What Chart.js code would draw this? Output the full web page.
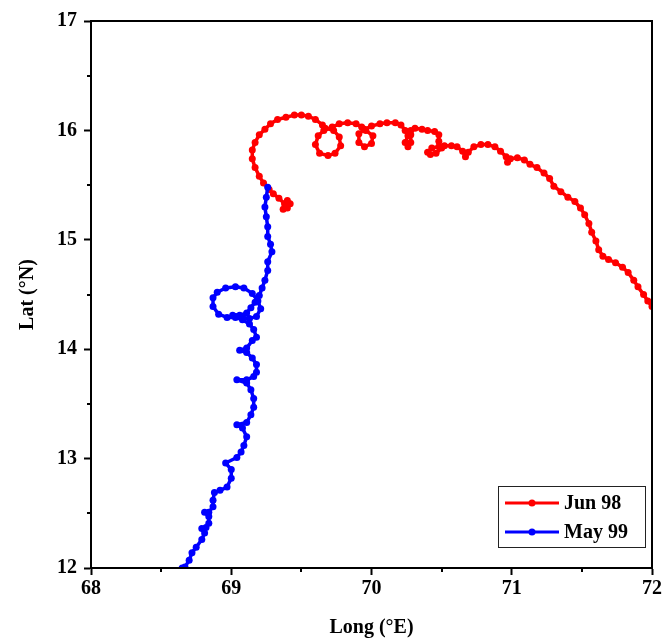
<!DOCTYPE html>
<html>
<head>
<meta charset="utf-8">
<script src="https://cdn.jsdelivr.net/npm/chart.js@4.4.1/dist/chart.umd.min.js"></script>
<style>
  html, body { margin: 0; padding: 0; background: #fff; }
  #wrap { width: 664px; height: 641px; }
</style>
</head>
<body>
<div id="wrap"><canvas id="myChart" width="664" height="641"></canvas></div>
<script>
// Jun 98 track (red)
const junLong = [69.37, 69.40, 69.42, 69.40, 69.38, 69.34, 69.30, 69.27, 69.23, 69.20, 69.17, 69.15, 69.15, 69.17, 69.20, 69.24, 69.28,
    69.33, 69.39, 69.45, 69.50, 69.55, 69.60, 69.65,
    69.67, 69.73, 69.77, 69.78, 69.74, 69.69, 69.63, 69.60, 69.62, 69.66, 69.72, 69.77, 69.83, 69.89, 69.93,
    69.96, 70.01, 70.00, 69.95, 69.91, 69.91, 69.95, 70.00, 70.06, 70.11, 70.17, 70.21, 70.24,
    70.26, 70.24, 70.26, 70.28, 70.28, 70.28, 70.31, 70.36, 70.40, 70.45, 70.48, 70.48,
    70.50, 70.46, 70.42, 70.40, 70.43, 70.48, 70.52, 70.57, 70.61, 70.65, 70.67, 70.69, 70.73, 70.78, 70.83,
    70.88, 70.92, 70.96, 70.97, 70.99, 71.04, 71.09, 71.13, 71.18, 71.23, 71.27, 71.30, 71.35, 71.40, 71.45,
    71.49, 71.52, 71.55, 71.57, 71.60, 71.62, 71.65, 71.69, 71.74, 71.79, 71.83, 71.87, 71.90, 71.94, 71.97, 72.00];
const junLat = [15.28, 15.29, 15.33, 15.36, 15.33, 15.38, 15.42, 15.46, 15.52, 15.58, 15.66, 15.74, 15.82, 15.89, 15.96, 16.01, 16.06,
    16.10, 16.12, 16.14, 16.14, 16.13, 16.10, 16.05,
    16.02, 16.00, 15.94, 15.86, 15.79, 15.77, 15.79, 15.87, 15.95, 16.00, 16.03, 16.06, 16.07, 16.06, 16.03,
    16.00, 15.95, 15.88, 15.85, 15.89, 15.97, 16.01, 16.04, 16.06, 16.07, 16.07, 16.05, 16.00,
    15.95, 15.89, 15.85, 15.89, 15.96, 16.00, 16.02, 16.01, 16.00, 15.99, 15.96, 15.90,
    15.84, 15.79, 15.78, 15.80, 15.84, 15.85, 15.86, 15.86, 15.85, 15.81, 15.76, 15.80, 15.85, 15.87, 15.87,
    15.85, 15.81, 15.76, 15.71, 15.74, 15.75, 15.73, 15.69, 15.66, 15.61, 15.56, 15.49, 15.44, 15.39, 15.35,
    15.29, 15.23, 15.15, 15.07, 14.99, 14.91, 14.85, 14.82, 14.79, 14.75, 14.70, 14.63, 14.57, 14.50, 14.44, 14.39];

// May 99 track (blue)
const mayLong = [68.65, 68.67, 68.70, 68.72, 68.75, 68.79, 68.81, 68.79, 68.82, 68.84, 68.84, 68.81, 68.84, 68.87, 68.87,
    68.88, 68.92, 68.97, 69.00, 69.00, 68.96, 69.04, 69.07, 69.09, 69.11, 69.08, 69.04, 69.11, 69.14, 69.16,
    69.16, 69.14, 69.11, 69.04, 69.11, 69.16, 69.18, 69.18, 69.15, 69.11, 69.06, 69.11, 69.15, 69.18, 69.16,
    69.13, 69.08, 69.03, 68.97, 68.91, 68.87, 68.87, 68.90, 68.96, 69.03, 69.09, 69.15, 69.19, 69.21, 69.18,
    69.13, 69.08, 69.03, 69.01, 69.06, 69.11, 69.14, 69.17, 69.20, 69.22, 69.24, 69.26, 69.26, 69.29, 69.28,
    69.26, 69.26, 69.25, 69.24, 69.25, 69.26];
const mayLat = [12.00, 12.01, 12.07, 12.14, 12.19, 12.26, 12.32, 12.36, 12.37, 12.41, 12.47, 12.51, 12.51, 12.56, 12.62,
    12.69, 12.71, 12.74, 12.82, 12.90, 12.96, 13.01, 13.06, 13.12, 13.20, 13.28, 13.31, 13.33, 13.40, 13.47,
    13.55, 13.63, 13.69, 13.72, 13.72, 13.75, 13.79, 13.86, 13.92, 13.97, 13.99, 14.01, 14.08, 14.11, 14.18,
    14.23, 14.27, 14.29, 14.29, 14.32, 14.39, 14.47, 14.52, 14.56, 14.57, 14.56, 14.51, 14.44, 14.37, 14.30,
    14.28, 14.29, 14.30, 14.31, 14.31, 14.33, 14.38, 14.43, 14.49, 14.56, 14.63, 14.72, 14.80, 14.89, 14.96,
    15.03, 15.12, 15.21, 15.30, 15.39, 15.48];

const xMin = 68, xMax = 72;
const yMin = 12, yMax = 17;
const seriesNames = ['Jun 98', 'May 99'];

function toPoints(xs, ys) {
    return xs.map(function (x, i) { return { x: x, y: ys[i] }; });
}

const FONT = 'Liberation Serif';

// frame, minor ticks and the inside legend
const extras = {
    id: 'extras',
    afterDraw: function (chart) {
        const c = chart.ctx;
        const a = chart.chartArea;
        const xs = chart.scales.x, ys = chart.scales.y;
        c.save();
        c.strokeStyle = '#000';
        c.lineWidth = 2;
        c.strokeRect(a.left, a.top, a.right - a.left, a.bottom - a.top);
        // minor ticks
        c.beginPath();
        for (let v = xMin + 0.5; v < xMax; v += 1) {
            const px = Math.round(xs.getPixelForValue(v));
            c.moveTo(px, a.bottom);
            c.lineTo(px, a.bottom + 4);
        }
        for (let v = yMin + 0.5; v < yMax; v += 1) {
            const py = Math.round(ys.getPixelForValue(v));
            c.moveTo(a.left, py);
            c.lineTo(a.left - 4, py);
        }
        c.stroke();

        // legend box
        const bw = 147, bh = 61;
        const bx = a.right - 7 - bw, by = a.bottom - 21 - bh;
        c.fillStyle = '#fff';
        c.fillRect(bx, by, bw, bh);
        c.lineWidth = 1;
        c.strokeStyle = '#222';
        c.strokeRect(bx + 0.5, by + 0.5, bw, bh);
        c.font = 'bold 20px "' + FONT + '"';
        c.textBaseline = 'middle';
        chart.data.datasets.forEach(function (ds, i) {
            const ly = by + 17 + i * 29;
            c.strokeStyle = ds.borderColor;
            c.lineWidth = 3;
            c.beginPath();
            c.moveTo(bx + 7, ly);
            c.lineTo(bx + 61, ly);
            c.stroke();
            c.fillStyle = ds.borderColor;
            c.beginPath();
            c.arc(bx + 34, ly, 3.5, 0, Math.PI * 2);
            c.fill();
            c.fillStyle = '#000';
            c.fillText(ds.label, bx + 66, ly + 1);
        });
        c.restore();
    }
};

const ctx = document.getElementById('myChart');

new Chart(ctx, {
    type: 'scatter',
    data: {
        datasets: [{
            label: seriesNames[0],
            data: toPoints(junLong, junLat),
            showLine: true,
            borderColor: '#ff0000',
            backgroundColor: '#ff0000',
            borderWidth: 3.5,
            borderJoinStyle: 'round',
            borderCapStyle: 'round',
            pointRadius: 3.5,
            pointBorderWidth: 0,
            tension: 0,
            order: 1
        }, {
            label: seriesNames[1],
            data: toPoints(mayLong, mayLat),
            showLine: true,
            borderColor: '#0000ff',
            backgroundColor: '#0000ff',
            borderWidth: 3.5,
            borderJoinStyle: 'round',
            borderCapStyle: 'round',
            pointRadius: 3.5,
            pointBorderWidth: 0,
            tension: 0,
            order: 0
        }]
    },
    options: {
        responsive: false,
        animation: false,
        events: [],
        layout: { padding: { left: 0, top: 21, right: 8, bottom: 0 } },
        plugins: {
            legend: { display: false },
            tooltip: { enabled: false }
        },
        scales: {
            x: {
                type: 'linear',
                min: xMin,
                max: xMax,
                afterFit: function (s) { s.height = 73; },
                border: { display: true, color: '#000', width: 2 },
                grid: { drawOnChartArea: false, drawTicks: true, tickLength: 7, tickWidth: 2, tickColor: '#000' },
                ticks: {
                    stepSize: 1,
                    padding: 2,
                    color: '#000',
                    maxRotation: 0,
                    font: { family: FONT, size: 20, weight: 'bold' }
                },
                title: {
                    display: true,
                    text: 'Long (°E)',
                    color: '#000',
                    padding: { top: 0, bottom: 1 },
                    font: { family: FONT, size: 20, weight: 'bold' }
                }
            },
            y: {
                type: 'linear',
                min: yMin,
                max: yMax,
                afterFit: function (s) { s.width = 91; },
                border: { display: true, color: '#000', width: 2 },
                grid: { drawOnChartArea: false, drawTicks: true, tickLength: 7, tickWidth: 2, tickColor: '#000' },
                ticks: {
                    stepSize: 1,
                    padding: 7,
                    color: '#000',
                    font: { family: FONT, size: 20, weight: 'bold' }
                },
                title: {
                    display: true,
                    text: 'Lat (°N)',
                    color: '#000',
                    padding: { top: 16, bottom: 0 },
                    font: { family: FONT, size: 20, weight: 'bold' }
                }
            }
        }
    },
    plugins: [extras]
});
</script>
</body>
</html>
